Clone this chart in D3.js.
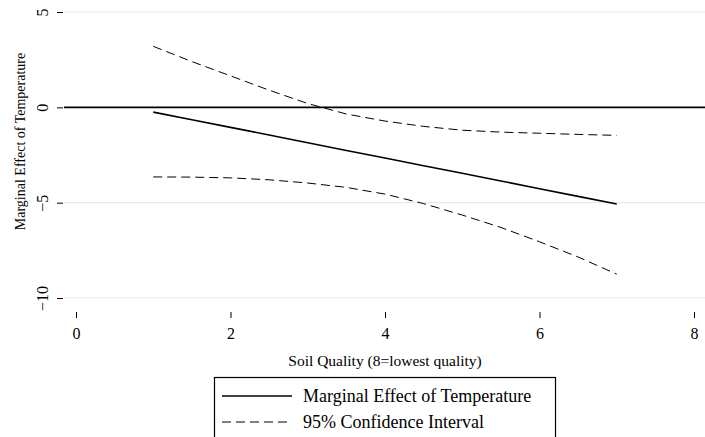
<!DOCTYPE html>
<html><head><meta charset="utf-8">
<script src="https://cdn.jsdelivr.net/npm/d3@7"></script>
<style>body{margin:0;background:#fff}svg{display:block}text{font-family:"Liberation Serif","Times New Roman",serif;fill:#000}</style>
</head><body><svg id="c" width="705" height="437"></svg>
<script>
const xs = [1, 1.5, 2, 2.5, 3, 3.5, 4, 4.5, 5, 5.5, 6, 6.5, 7];
const effect = [-0.25, -0.65, -1.05, -1.45, -1.86, -2.26, -2.66, -3.06, -3.46, -3.86, -4.27, -4.67, -5.07];
const upperCI = [3.2, 2.4, 1.65, 0.9, 0.2, -0.35, -0.72, -1.0, -1.2, -1.3, -1.36, -1.42, -1.47];
const lowerCI = [-3.65, -3.66, -3.7, -3.8, -3.97, -4.2, -4.55, -5.05, -5.65, -6.3, -7.05, -7.85, -8.75];
const xTicks = [0, 2, 4, 6, 8];
const yTicks = [5, 0, -5, -10];
const xTitle = "Soil Quality (8=lowest quality)";
const yTitle = "Marginal Effect of Temperature";
const legendLabels = ["Marginal Effect of Temperature", "95% Confidence Interval"];

const FONT = '"Liberation Serif","Times New Roman",serif';
const svg = d3.select("#c");
const x = d3.scaleLinear().domain([0, 8]).range([76, 694]);
const y = d3.scaleLinear().domain([-10, 5]).range([298, 12]);
const plotL = 64, plotR = 705;

// gridlines
svg.append("g").selectAll("line").data(yTicks).join("line")
  .attr("x1", plotL).attr("x2", plotR)
  .attr("y1", d => y(d)).attr("y2", d => y(d))
  .attr("stroke", "#eaeaea").attr("stroke-width", 1.2);

// y axis ticks
const yAxis = d3.axisLeft(y).tickValues(yTicks).tickSize(6).tickPadding(8).tickFormat(d3.format("d"));
const gy = svg.append("g").attr("transform", `translate(${plotL - 1},0)`).call(yAxis)
  .attr("font-family", FONT);
gy.select(".domain").remove();
gy.selectAll(".tick line").attr("stroke", "#000");
gy.selectAll(".tick text").attr("font-size", 16).attr("text-anchor", "middle")
  .attr("x", 0).attr("dy", 0)
  .attr("transform", "translate(-21,0) rotate(-90)")
  .attr("dominant-baseline", "central");

// x axis ticks
const xAxis = d3.axisBottom(x).tickValues(xTicks).tickSize(6).tickFormat(d3.format("d"));
const gx = svg.append("g").attr("transform", `translate(0,312)`).call(xAxis)
  .attr("font-family", FONT);
gx.select(".domain").remove();
gx.selectAll(".tick line").attr("stroke", "#000");
gx.selectAll(".tick text").attr("font-size", 16).attr("y", 27).attr("dy", 0);

// zero line
svg.append("line").attr("x1", plotL).attr("x2", plotR)
  .attr("y1", y(0)).attr("y2", y(0)).attr("stroke", "#000").attr("stroke-width", 1.6);

const line = d3.line().x((d, i) => x(xs[i])).y(d => y(d));
svg.append("path").attr("d", line(effect)).attr("fill", "none").attr("stroke", "#000").attr("stroke-width", 1.6);
[upperCI, lowerCI].forEach(s => svg.append("path").attr("d", line(s)).attr("fill", "none")
  .attr("stroke", "#000").attr("stroke-width", 1).attr("stroke-dasharray", "9,5"));

// titles
svg.append("text").attr("x", 385).attr("y", 366).attr("text-anchor", "middle")
  .attr("font-size", 15.5).text(xTitle);
svg.append("text").attr("transform", `translate(25,141.5) rotate(-90)`)
  .attr("text-anchor", "middle").attr("font-size", 14).text(yTitle);

// legend
const lg = svg.append("g");
lg.append("rect").attr("x", 214.5).attr("y", 377.5).attr("width", 341).attr("height", 70)
  .attr("fill", "#fff").attr("stroke", "#000").attr("stroke-width", 1.2);
const rows = [396, 422];
lg.selectAll("line.s").data(legendLabels).join("line")
  .attr("x1", 222).attr("x2", 292)
  .attr("y1", (d, i) => rows[i]).attr("y2", (d, i) => rows[i])
  .attr("stroke", "#000").attr("stroke-width", (d, i) => i ? 1 : 1.6)
  .attr("stroke-dasharray", (d, i) => i ? "9,5" : null);
lg.selectAll("text").data(legendLabels).join("text")
  .attr("x", 303).attr("y", (d, i) => rows[i] + 6).attr("font-size", 18).text(d => d);
</script></body></html>
